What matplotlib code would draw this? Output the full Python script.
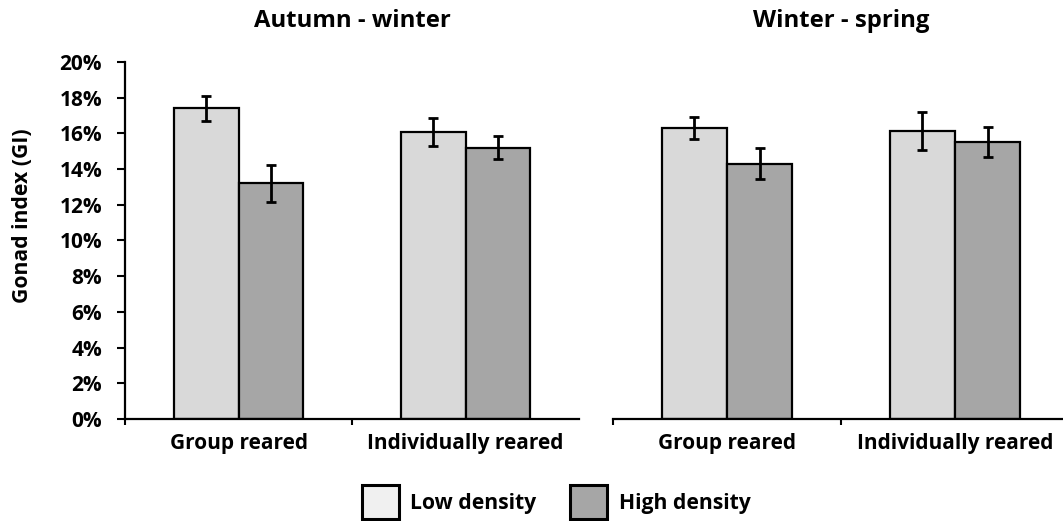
import matplotlib.pyplot as plt
from matplotlib.patches import Patch
import numpy as np

plt.rcParams['font.family'] = ['Open Sans', 'DejaVu Sans']
plt.rcParams['font.weight'] = 'bold'

groups = ['Group reared', 'Individually reared']
seasons = ['Autumn - winter', 'Winter - spring']

# gonad index (%) per season, [group reared, individually reared]
low_aw = [17.4, 16.1]
low_aw_err = [0.7, 0.78]
high_aw = [13.2, 15.2]
high_aw_err = [1.03, 0.65]

low_ws = [16.3, 16.15]
low_ws_err = [0.63, 1.07]
high_ws = [14.3, 15.5]
high_ws_err = [0.88, 0.85]

low_col = '#d9d9d9'
high_col = '#a6a6a6'

fig = plt.figure(figsize=(10.63, 5.21), dpi=100)
ax1 = fig.add_axes([0.1176, 0.1958, 0.4271, 0.6852])
ax2 = fig.add_axes([0.5767, 0.1958, 0.4290, 0.6852])

x = np.arange(len(groups))
w = 0.286
ekw = dict(elinewidth=2, capthick=2, ecolor='black')

for ax, title, lo, loe, hi, hie in [(ax1, seasons[0], low_aw, low_aw_err, high_aw, high_aw_err),
                                    (ax2, seasons[1], low_ws, low_ws_err, high_ws, high_ws_err)]:
    ax.bar(x - w/2, lo, w, yerr=loe, color=low_col, edgecolor='black', linewidth=1.6,
           capsize=3.5, error_kw=ekw, zorder=2)
    ax.bar(x + w/2, hi, w, yerr=hie, color=high_col, edgecolor='black', linewidth=1.6,
           capsize=3.5, error_kw=ekw, zorder=2)
    ax.set_xlim(-0.5, 1.5)
    ax.set_ylim(0, 20)
    ax.set_xticks([-0.5, 0.5])
    ax.set_xticklabels(['', ''])
    ax.set_xticks(x, minor=True)
    ax.set_xticklabels(groups, minor=True, fontsize=15, fontweight='bold')
    ax.tick_params(axis='x', which='minor', length=0, pad=10)
    ax.tick_params(axis='x', which='major', length=4, width=1.5, direction='out')
    ax.set_title(title, fontsize=17.2, fontweight='bold', pad=25)
    for s in ['top', 'right']:
        ax.spines[s].set_visible(False)
    ax.spines['bottom'].set_linewidth(1.6)

ax1.spines['left'].set_linewidth(1.6)
ax1.set_yticks(np.arange(0, 21, 2))
ax1.set_yticklabels([f'{v}%' for v in range(0, 21, 2)], fontsize=15, fontweight='bold')
ax1.tick_params(axis='y', length=5.5, width=1.5, direction='out', pad=11)
ax1.set_ylabel('Gonad index (GI)', fontsize=15.2, fontweight='bold')
ax1.yaxis.set_label_coords(-0.202, 0.57)

ax2.spines['left'].set_visible(False)
ax2.set_yticks([])

handles = [Patch(facecolor='#f0f0f0', edgecolor='black', linewidth=2.2, label='Low density'),
           Patch(facecolor=high_col, edgecolor='black', linewidth=2.2, label='High density')]
fig.legend(handles=handles, loc='center', bbox_to_anchor=(0.523, 0.036), ncol=2,
           frameon=False, handlelength=1.75, handleheight=2.1, borderpad=0,
           handletextpad=0.55, columnspacing=1.6, prop={'weight': 'bold', 'size': 15.2})

fig.savefig('out.png', dpi=100)
